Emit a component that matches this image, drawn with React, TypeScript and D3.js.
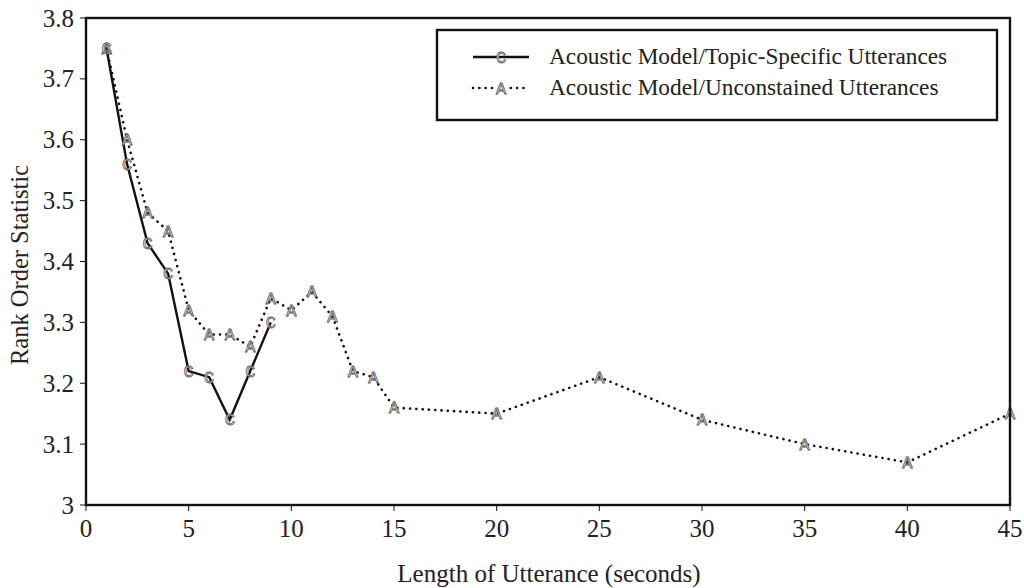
import React from "react";
import * as d3 from "d3";

const topicX = [1, 2, 3, 4, 5, 6, 7, 8, 9];
const topicY = [3.75, 3.56, 3.43, 3.38, 3.22, 3.21, 3.14, 3.22, 3.3];
const unconX = [1, 2, 3, 4, 5, 6, 7, 8, 9, 10, 11, 12, 13, 14, 15, 20, 25, 30, 35, 40, 45];
const unconY = [3.75, 3.6, 3.48, 3.45, 3.32, 3.28, 3.28, 3.26, 3.34, 3.32, 3.35, 3.31, 3.22, 3.21, 3.16, 3.15, 3.21, 3.14, 3.1, 3.07, 3.15];
const xTicks = [0, 5, 10, 15, 20, 25, 30, 35, 40, 45];
const yTicks = [3, 3.1, 3.2, 3.3, 3.4, 3.5, 3.6, 3.7, 3.8];
const seriesNames = ["Acoustic Model/Topic-Specific Utterances", "Acoustic Model/Unconstained Utterances"];
const xTitle = "Length of Utterance (seconds)";
const yTitle = "Rank Order Statistic";

const W = 1024, H = 588;
const L = 86, R = 1010, T = 18, B = 505;
const serif = "Liberation Serif";
const markFont = "Liberation Mono";

export default function App() {
  const x = d3.scaleLinear().domain([0, 45]).range([L, R]);
  const y = d3.scaleLinear().domain([3, 3.8]).range([B, T]);
  const line = d3.line<[number, number]>().x(d => x(d[0])).y(d => y(d[1]));
  const topic: [number, number][] = topicX.map((v, i) => [v, topicY[i]]);
  const uncon: [number, number][] = unconX.map((v, i) => [v, unconY[i]]);
  const fmtY = (v: number) => (v === 3 ? "3" : d3.format(".1f")(v));

  const marker = (ch: string, cx: number, cy: number, key: any) => (
    <text key={key} x={cx} y={cy + 5.5} textAnchor="middle" fontFamily={markFont} fontSize={17}
      fill="#fff" stroke="#555" strokeWidth={0.8}>{ch}</text>
  );

  return (
    <svg width={W} height={H} style={{ position: "absolute", left: 0, top: 0, background: "#fff" }}>
      <rect x={0} y={0} width={W} height={H} fill="#fff" />
      <path d={line(uncon) || ""} fill="none" stroke="#111" strokeWidth={2.6} strokeDasharray="0.1,6.2" strokeLinecap="round" />
      <path d={line(topic) || ""} fill="none" stroke="#111" strokeWidth={2.4} />
      {uncon.map((d, i) => marker("A", x(d[0]), y(d[1]), "a" + i))}
      {topic.map((d, i) => marker("C", x(d[0]), y(d[1]), "c" + i))}
      <rect x={L} y={T} width={R - L} height={B - T} fill="none" stroke="#111" strokeWidth={2.4} />
      {xTicks.map(t => (
        <g key={"x" + t}>
          <line x1={x(t)} x2={x(t)} y1={B} y2={B + 6} stroke="#111" strokeWidth={1} />
          <text x={x(t)} y={B + 32} textAnchor="middle" fontFamily={serif} fontSize={25} fill="#222">{t}</text>
        </g>
      ))}
      {yTicks.map(t => (
        <g key={"y" + t}>
          <line x1={L - 6} x2={L} y1={y(t)} y2={y(t)} stroke="#111" strokeWidth={1} />
          <text x={L - 12} y={y(t) + 8.5} textAnchor="end" fontFamily={serif} fontSize={25} fill="#222">{fmtY(t)}</text>
        </g>
      ))}
      <text x={549} y={582} textAnchor="middle" fontFamily={serif} fontSize={25} fill="#222">{xTitle}</text>
      <text transform={`translate(28,265) rotate(-90)`} textAnchor="middle" fontFamily={serif} fontSize={24.5} fill="#222">{yTitle}</text>
      <rect x={437} y={30} width={560} height={90} fill="#fff" stroke="#111" strokeWidth={2.4} />
      <line x1={473} x2={529} y1={57} y2={57} stroke="#111" strokeWidth={2.4} />
      {marker("C", 501, 57, "lc")}
      <line x1={473} x2={529} y1={88} y2={88} stroke="#111" strokeWidth={2.6} strokeDasharray="0.1,6.2" strokeLinecap="round" />
      <rect x={494} y={80} width={14} height={14} fill="#fff" />
      {marker("A", 501, 88, "la")}
      <text x={549} y={64} fontFamily={serif} fontSize={23.3} fill="#222">{seriesNames[0]}</text>
      <text x={549} y={95} fontFamily={serif} fontSize={23.3} fill="#222">{seriesNames[1]}</text>
    </svg>
  );
}
